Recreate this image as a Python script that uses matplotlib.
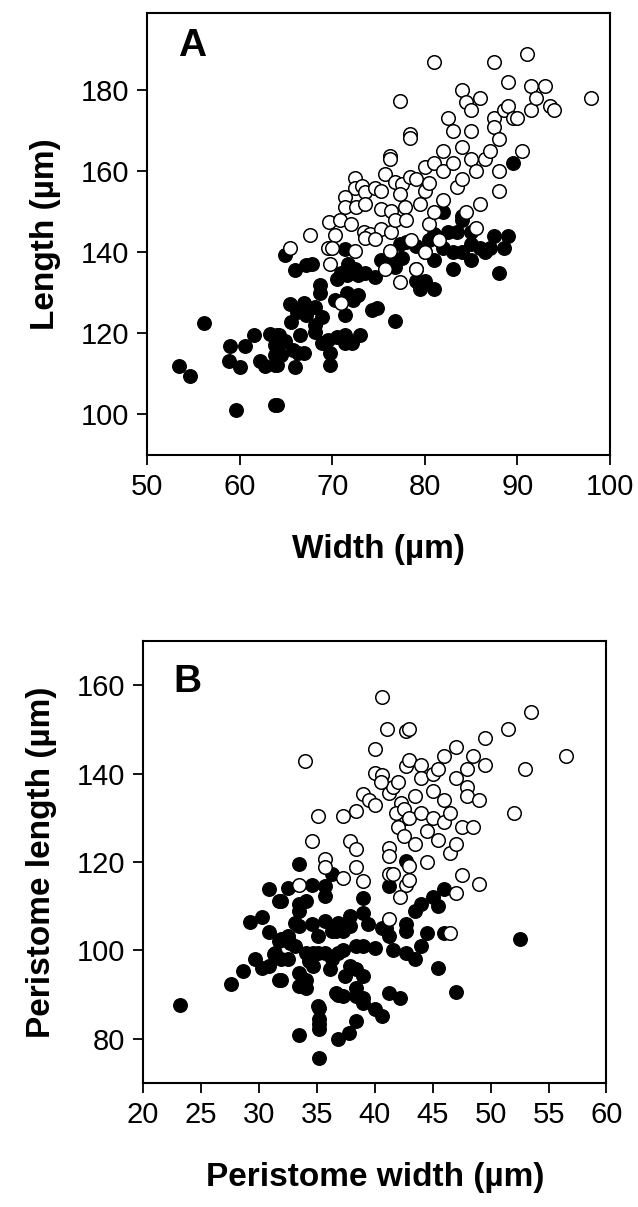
import matplotlib
matplotlib.use("Agg")
import matplotlib.pyplot as plt

plt.rcParams['font.family'] = ['Liberation Sans', 'DejaVu Sans']

# Panel A: body width vs length (µm), filled = group 1, open = group 2
a_filled_x = [53.5, 54.6, 56.2, 59.0, 60.6, 61.6, 63.3, 64.0, 58.9, 60.0, 62.2, 62.7, 63.8, 63.8,
              63.8, 59.6, 63.8, 64.0, 64.9, 66.0, 67.2, 67.8, 71.4, 71.7, 72.5, 70.5, 71.0, 71.6,
              68.7, 68.7, 72.8, 73.5, 74.6, 75.3, 76.2, 76.8, 77.5, 70.3, 71.6, 72.3, 72.8, 71.4,
              74.3, 74.8, 76.8, 65.4, 67.0, 68.1, 68.9, 66.2, 65.6, 67.2, 68.1, 68.1, 64.3, 64.9,
              64.0, 64.5, 66.5, 65.8, 67.0, 66.3, 64.0, 66.0, 68.9, 69.6, 70.5, 71.4, 71.4, 72.1,
              73.0, 69.8, 69.8, 77.3, 78.0,
              79, 79, 79.5, 80, 80, 80.5, 81, 81, 81, 82, 82, 82.5, 83, 83, 83.5, 84, 84, 85, 85,
              86, 86.5, 87, 87.5, 88, 88.5, 89, 89.5, 84, 85, 79]
a_filled_y = [112.0, 109.6, 122.5, 116.8, 116.8, 119.6, 119.9, 119.6, 113.3, 111.6, 113.3, 111.9,
              117.2, 114.7, 112.3, 101.2, 102.3, 102.3, 139.4, 135.6, 136.8, 137.2, 140.9, 137.2,
              136.0, 133.5, 134.8, 134.4, 131.9, 129.9, 134.4, 134.8, 133.9, 138.0, 137.6, 136.4,
              138.5, 128.2, 129.9, 128.2, 129.4, 124.5, 125.8, 126.2, 123.1, 127.2, 127.4, 126.6,
              124.1, 125.3, 122.9, 124.5, 122.1, 120.4, 119.6, 118.0, 116.0, 114.7, 119.6, 116.0,
              115.1, 115.1, 112.3, 111.6, 117.6, 118.4, 119.2, 119.6, 117.6, 117.6, 119.6, 115.1,
              112.3, 142.1, 142.5,
              141.5, 136, 131, 140, 133, 143, 131, 138, 144.5, 141, 150, 145, 136, 140, 145, 149,
              140, 138, 142, 141, 140, 141, 144, 135, 141, 144, 162, 148, 145, 133]
a_open_x = [77.3, 78.4, 78.4, 76.2, 76.2, 75.7, 72.5, 72.5, 73.2, 73.5, 74.6, 75.3, 76.8, 77.5,
            77.3, 78.4, 71.4, 71.4, 72.6, 73.5, 75.3, 76.4, 77.9, 69.7, 70.8, 72.0, 73.4, 74.1,
            75.3, 76.4, 76.8, 67.6, 70.3, 65.4, 69.6, 70.0, 69.8, 72.5, 76.2, 75.7, 77.3, 70.9,
            73.5, 74.6, 78,
            78.5, 79, 79.5, 80, 80, 80.5, 80.5, 81, 81, 81, 81.5, 82, 82, 82, 82.5, 83, 83, 83.5,
            84, 84, 84, 84.5, 84.5, 85, 85, 85, 85.5, 85.5, 86, 86.5, 87, 87.5, 87.5, 87.5, 88,
            88, 88.5, 89, 89, 89.5, 90, 90.5, 91, 91.5, 91.5, 92, 93, 93.5, 94, 98, 86, 80, 79,
            88]
a_open_y = [177.3, 169.1, 168.3, 163.8, 163.0, 159.3, 158.2, 155.8, 156.4, 154.8, 155.8, 155.2,
            157.3, 156.9, 154.4, 158.5, 153.6, 151.1, 151.1, 151.9, 150.7, 150.3, 151.1, 147.4,
            147.9, 147.0, 145.0, 144.6, 145.8, 145.0, 147.9, 144.2, 144.2, 141.1, 141.1, 141.1,
            137.0, 140.2, 140.2, 136.0, 132.7, 127.6, 143.5, 143.2, 148,
            143, 158, 152, 161, 155, 157, 147, 162, 150, 187, 143, 165, 160, 153, 173, 170, 162,
            156, 180, 166, 158, 177, 150, 175, 170, 163, 160, 146, 152, 163, 165, 187, 173, 171,
            168, 160, 175, 182, 176, 173, 173, 165, 189, 175, 181, 178, 181, 176, 175, 178, 178,
            140, 136, 155]

# Panel B: peristome width vs peristome length (µm)
b_filled_x = [23.2, 27.6, 28.6, 29.7, 30.3, 30.9, 29.2, 30.3, 30.9, 30.9, 31.3, 31.7, 31.7, 31.7,
              33.5, 36.3, 32.5, 34.6, 35.7, 35.7, 31.9, 33.5, 34.1, 33.5, 39.0, 39.0, 41.2, 42.7,
              33.1, 33.5, 34.6, 35.7, 36.8, 36.7, 37.3, 37.9, 37.9, 35.1, 36.3, 39.4, 40.6, 41.0,
              41.2, 42.7, 42.7, 31.9, 32.5, 32.7, 33.1, 31.4, 31.9, 32.5, 34.1, 34.7, 35.1, 35.7,
              34.3, 34.7, 36.3, 36.8, 37.3, 38.4, 39.0, 40.0, 41.6, 42.7, 31.9, 33.5, 34.1, 33.5,
              34.1, 36.1, 37.4, 37.9, 38.4, 39.0, 41.2, 42.2, 36.7, 37.3, 38.4, 38.4, 35.1,
              35.2, 35.2, 35.2, 35.2, 33.5, 35.2, 36.8, 37.8, 38.4, 36.8, 39.0, 39.0, 40.0, 40.6,
              43.5, 44.0, 44.5, 45.0, 45.5, 46.0, 46.0, 44.0, 45.5, 47.0, 52.5, 43.5]
b_filled_y = [87.7, 92.3, 95.3, 98.0, 96.1, 96.5, 106.4, 107.5, 113.8, 104.1, 99.1, 111.2, 102.1,
              93.4, 119.5, 117.3, 114.2, 114.7, 114.5, 112.3, 111.2, 110.4, 111.2, 108.9, 111.9,
              108.5, 114.5, 120.2, 106.3, 105.5, 105.9, 106.6, 106.3, 104.4, 104.4, 107.8, 105.5,
              103.2, 104.4, 105.9, 105.1, 105.1, 103.2, 105.9, 104.4, 102.5, 103.2, 101.7, 101.0,
              99.5, 98.0, 98.0, 99.5, 99.5, 99.5, 99.5, 97.6, 96.5, 98.0, 99.5, 100.2, 101.0, 101.0,
              100.6, 100.2, 99.5, 93.4, 95.0, 93.4, 91.9, 91.5, 95.7, 94.2, 96.5, 95.7, 94.2, 90.4,
              89.3, 90.4, 89.7, 91.5, 89.7, 87.4,
              86.9, 84.4, 83.3, 82.3, 80.8, 75.6, 79.9, 81.4, 84.0, 90.0, 89.3, 88.2, 86.7, 85.1,
              109.0, 110.5, 104.0, 112.0, 110.0, 114.0, 104.0, 101.0, 96.0, 90.5, 102.5, 98.0]
b_open_x = [35.1, 37.3, 38.4, 39.0, 41.2, 41.6, 42.3, 42.7, 34.6, 37.9, 38.4, 35.7, 35.7, 38.4,
            37.3, 39.0, 33.5, 41.2, 41.2, 41.2, 41.6, 42.7, 42.2, 41.2, 40.6, 34.0, 41.1, 42.7,
            40.0, 40.0, 40.6, 42.7, 39.5, 40.0, 40.5, 42.0, 41.8, 42.5, 42.5, 42.0,
            43, 43, 43, 43, 43, 43.5, 43.5, 44, 44, 44, 44.5, 44.5, 45, 45, 45, 45.5, 45.5, 46,
            46, 46, 46.5, 46.5, 46.5, 47, 47, 47, 47, 47.5, 47.5, 48, 48, 48, 48.5, 48.5, 49, 49,
            49.5, 49.5, 51.5, 52, 53, 53.5, 56.5]
b_open_y = [130.4, 130.4, 131.5, 135.3, 135.7, 136.9, 133.4, 130.0, 124.7, 124.7, 123.0, 120.6,
            118.9, 118.9, 116.3, 115.7, 114.7, 123.2, 121.3, 117.2, 117.2, 114.7, 112.1, 107.0,
            157.3, 142.8, 150.0, 149.6, 145.5, 140.2, 139.8, 141.7, 134.0, 133.0, 138.0, 128.0,
            131.0, 132.0, 126.0, 138.0,
            150, 143, 130, 119, 116, 135, 124, 142, 139, 131, 127, 120, 140, 136, 130, 125, 141,
            144, 134, 129, 122, 131, 104, 146, 139, 124, 113, 117, 128, 141, 137, 135, 144, 128,
            134, 115, 148, 142, 150, 131, 141, 154, 144]

fig = plt.figure(figsize=(6.38, 12.07), dpi=100)
ax_a = fig.add_axes([0.2304, 0.623, 0.7257, 0.3662])
ax_b = fig.add_axes([0.2241, 0.1027, 0.7265, 0.3662])

msize = 95
for ax, fx, fy, ox, oy in [(ax_a, a_filled_x, a_filled_y, a_open_x, a_open_y),
                           (ax_b, b_filled_x, b_filled_y, b_open_x, b_open_y)]:
    ax.scatter(fx, fy, s=msize, facecolor='black', edgecolor='black', linewidth=1.0, zorder=3)
    ax.scatter(ox, oy, s=msize, facecolor='white', edgecolor='black', linewidth=1.1, zorder=3)
    for sp in ax.spines.values():
        sp.set_linewidth(1.5)
    ax.tick_params(direction='out', length=7, width=1.3, labelsize=21, pad=6)

ax_a.set_xlim(50, 100)
ax_a.set_ylim(90, 199)
ax_a.set_xticks([50, 60, 70, 80, 90, 100])
ax_a.set_yticks([100, 120, 140, 160, 180])
ax_a.set_xlabel('Width (µm)', fontsize=24, fontweight='bold', labelpad=24)
ax_a.set_ylabel('Length (µm)', fontsize=24, fontweight='bold', labelpad=14)
ax_a.text(0.067, 0.885, 'A', transform=ax_a.transAxes, fontsize=28, fontweight='bold',
          ha='left', va='bottom')

ax_b.set_xlim(20, 60)
ax_b.set_ylim(70, 170)
ax_b.set_xticks([20, 25, 30, 35, 40, 45, 50, 55, 60])
ax_b.set_yticks([80, 100, 120, 140, 160])
ax_b.set_xlabel('Peristome width (µm)', fontsize=24, fontweight='bold', labelpad=24)
ax_b.set_ylabel('Peristome length (µm)', fontsize=24, fontweight='bold', labelpad=14)
ax_b.text(0.065, 0.867, 'B', transform=ax_b.transAxes, fontsize=28, fontweight='bold',
          ha='left', va='bottom')

fig.savefig('out.png', dpi=100)
